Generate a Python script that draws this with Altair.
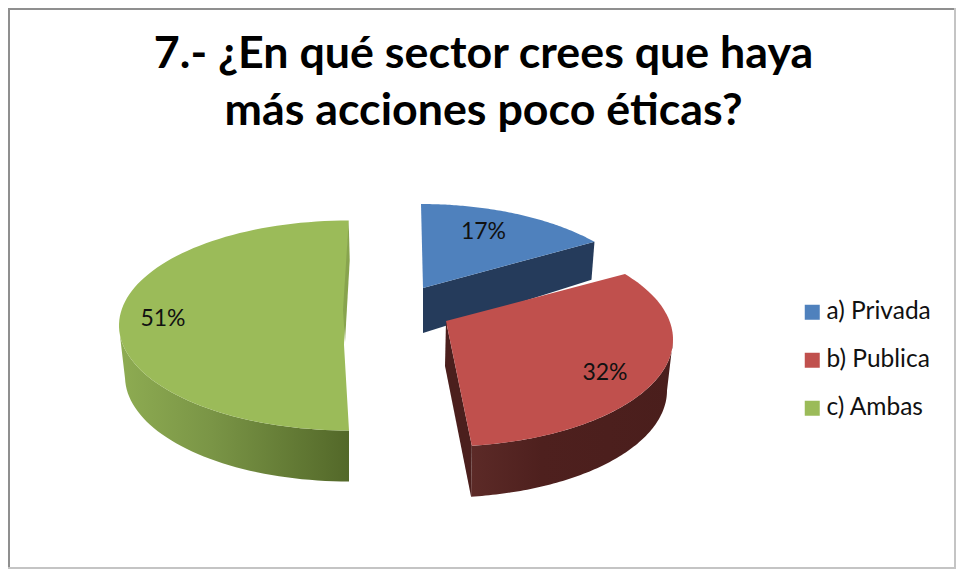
import numpy as np
import altair as alt

TITLE_LINES = ["7.- ¿En qué sector crees que haya", "más acciones poco éticas?"]
CATEGORIES = ["a) Privada", "b) Publica", "c) Ambas"]
PERCENTS = [17, 32, 51]
COLOURS = ["#4f81bd", "#c0504d", "#9bbb59"]

# Pie layout, in page pixels: rim ellipse, apex, first angle, perspective stretch of the sweep
PIE = [
    dict(c=(421, 314), ry=110, apex=(423, 288), start=0.0, stretch=0.80, label=(483.5, 232)),
    dict(c=(443, 339.5), ry=107, apex=(446, 321), start=52.3, stretch=1.046, label=(605, 373)),
    dict(c=(349, 325.5), ry=105, apex=(344, 345), start=180.0, stretch=0.98, label=(163, 319)),
]
RX = 230
BOTTOM_RX, DEPTH = 224, 51
ORIGIN = 8


def rim(slice_, pct, lo=None, bottom=False):
    a0 = slice_["start"]
    a1 = a0 + pct * 3.6 * slice_["stretch"]
    if lo is not None:
        a0 = max(a0, lo)
    t = np.radians(np.linspace(a0, a1, 90))
    rx = BOTTOM_RX if bottom else RX
    dy = DEPTH if bottom else 0
    cx, cy = slice_["c"]
    return [(cx + rx * np.sin(v), cy + dy - slice_["ry"] * np.cos(v)) for v in t]


def feature(points, cat=None):
    pts = [[float(x - ORIGIN), float(y - ORIGIN)] for x, y in points]
    pts.append(pts[0])
    return {
        "type": "Feature",
        "geometry": {"type": "Polygon", "coordinates": [pts]},
        "properties": {"cat": cat or ""},
    }


def geo(features):
    return alt.InlineData(
        values={"type": "FeatureCollection", "features": features},
        format=alt.JsonDataFormat(type="json", property="features"),
    )


PROJ = dict(type="identity", scale=1, translate=[0, 0])


def shape(points, **mark):
    return (
        alt.Chart(geo([feature(points)]))
        .mark_geoshape(strokeWidth=0, **mark)
        .project(**PROJ)
    )


def grad(stops):
    return alt.Gradient(
        gradient="linear", x1=0, x2=1, y1=0, y2=0,
        stops=[alt.GradientStop(offset=o, color=c) for o, c in stops],
    )


blue, red, green = PIE
b_top, r_top, g_top = (rim(s, p) for s, p in zip(PIE, PERCENTS))

# blue cut face
b_end = b_top[-1]
blue_cut = shape(
    [blue["apex"], b_end, (b_end[0] - 3, b_end[1] + 38),
     (blue["apex"][0], blue["apex"][1] + 45)],
    fill="#253b5b",
)

# red outer wall and cut face
r_out_top = rim(red, PERCENTS[1], lo=90)
r_out_bot = rim(red, PERCENTS[1], lo=90, bottom=True)
red_side = shape(
    r_out_top + r_out_bot[::-1],
    fill=grad([(0, "#5c2a27"), (0.35, "#4e201e"), (1, "#4a1e1c")]),
)
r_end = r_top[-1]
red_cut = shape(
    [red["apex"], r_end, r_out_bot[-1], (red["apex"][0] - 1, red["apex"][1] + 45)],
    fill="#4b1f1d",
)

# green outer wall and cut sliver
g_wall_top = [p for p in rim(green, PERCENTS[2], lo=180) if p[1] > 325]
g_wall_bot = [p for p in rim(green, PERCENTS[2], lo=180, bottom=True) if p[1] > 325 + DEPTH]
green_side = shape(
    g_wall_top + g_wall_bot[::-1],
    fill=grad([(0, "#8eac52"), (0.4, "#7a9546"), (1, "#536829")]),
)
g_last = g_top[-1]
green_sliver = shape(
    [g_last, (g_last[0] + 1, g_last[1] + 40), (green["apex"][0] + 1, green["apex"][1] - 3),
     (green["apex"][0] - 1, green["apex"][1] - 35)],
    fill="#88a44e",
)

# top faces carry the category colours and the legend
tops = [
    feature([s["apex"]] + pts, cat)
    for s, pts, cat in zip(PIE, (b_top, r_top, g_top), CATEGORIES)
]
top_layer = (
    alt.Chart(geo(tops))
    .mark_geoshape(strokeWidth=0)
    .project(**PROJ)
    .encode(
        color=alt.Color(
            "properties.cat:N",
            scale=alt.Scale(domain=CATEGORIES, range=COLOURS),
            legend=alt.Legend(
                title=None,
                orient="none",
                legendX=792,
                legendY=292,
                symbolType="square",
                symbolSize=225,
                symbolStrokeWidth=0,
                symbolOpacity=1,
                labelFont="Lato",
                labelFontSize=24.5,
                labelColor="#111111",
                labelOffset=2,
                rowPadding=23,
                labelLimit=200,
            ),
        )
    )
)

labels = [
    alt.Chart(alt.Data(values=[{"t": f"{p}%"}]))
    .mark_text(font="Lato", fontSize=23, color="#111111", align="center", baseline="middle")
    .encode(
        text="t:N",
        x=alt.value(s["label"][0] - ORIGIN),
        y=alt.value(s["label"][1] - ORIGIN),
    )
    for s, p in zip(PIE, PERCENTS)
]

W, H = 948, 561
frame_data = alt.Data(values=[{"a": 0}])
frame = [
    alt.Chart(frame_data).mark_rule(color=c, strokeWidth=w).encode(
        x=alt.value(x), x2=alt.value(x2), y=alt.value(y), y2=alt.value(y2)
    )
    for c, w, x, x2, y, y2 in [
        ("#8f8f8f", 4, 0, 0, 0, H),
        ("#8f8f8f", 4, 0, W, 0, 0),
        ("#c4c4c4", 2, W - 1, W - 1, 0, H),
        ("#c4c4c4", 2, 0, W, H - 1, H - 1),
    ]
]

chart = alt.layer(
    *frame,
    blue_cut,
    green_side,
    red_side,
    red_cut,
    top_layer,
    green_sliver,
    *labels,
).properties(
    width=W,
    height=H,
    padding=0,
    autosize=alt.AutoSizeParams(type="none"),
    title=alt.TitleParams(
        text=TITLE_LINES,
        font="Lato",
        fontSize=44.75,
        fontWeight="bold",
        color="#000000",
        lineHeight=57,
        anchor="middle",
        baseline="alphabetic",
        offset=0,
        dx=1.5,
        dy=164,
    ),
).configure_view(stroke=None)

chart.save("out.html", embed_options={"renderer": "svg", "actions": False})
